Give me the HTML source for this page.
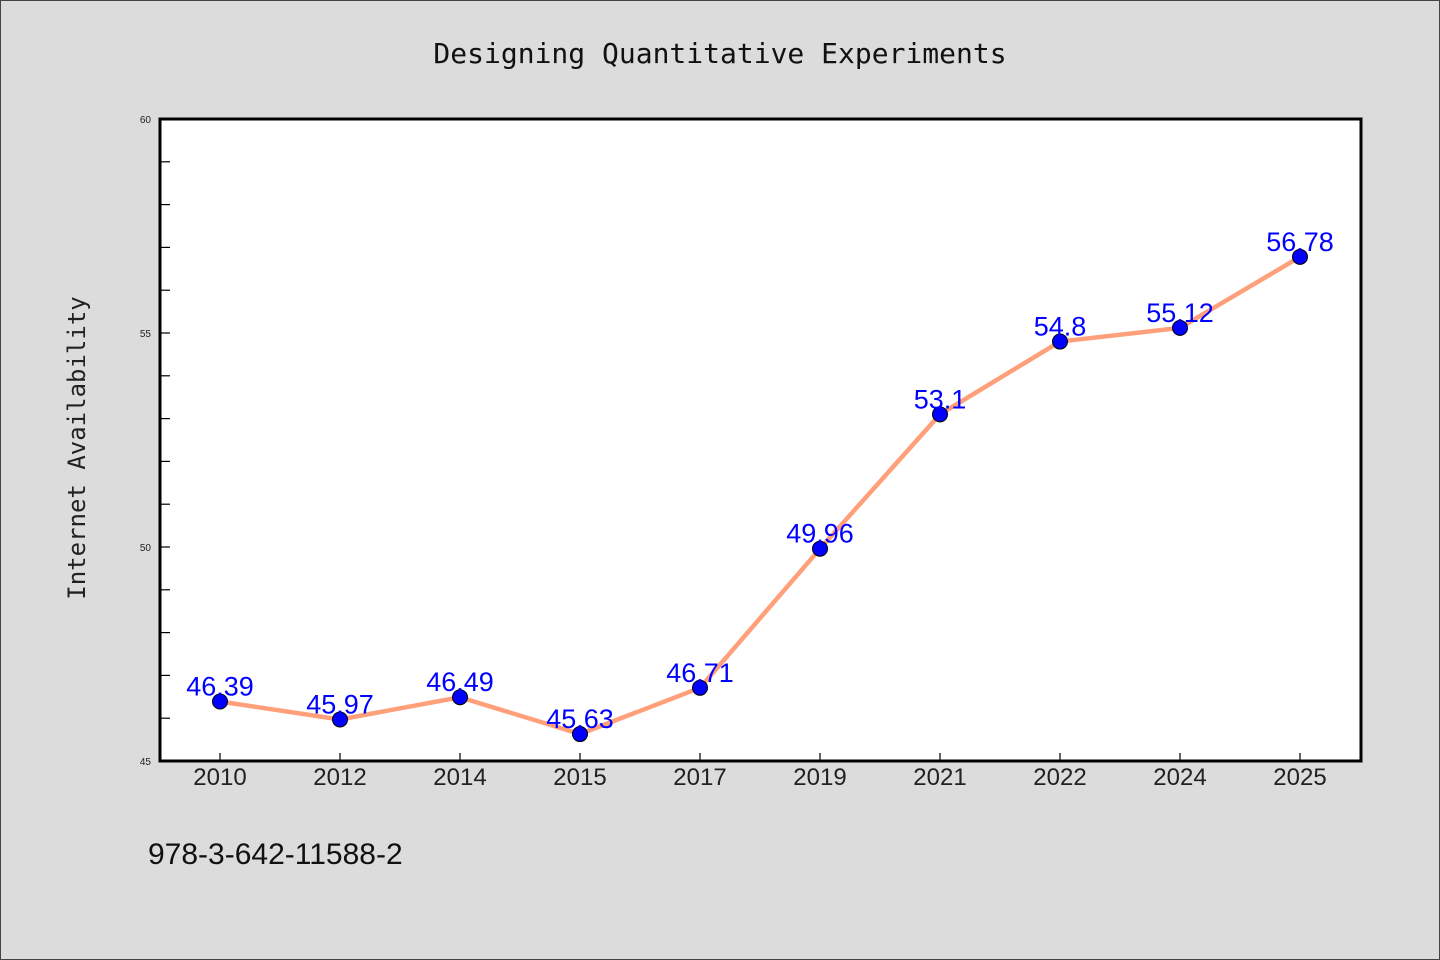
<!DOCTYPE html>
<html><head><meta charset="utf-8"><style>
body{margin:0;background:#dcdcdc;}
svg{display:block;font-family:"Liberation Sans","DejaVu Sans",sans-serif;}
</style></head><body>
<svg width="1440" height="960" id="chart">
<rect x="0.5" y="0.5" width="1439" height="959" fill="#dcdcdc" stroke="#444"/>
<text x="720" y="63" text-anchor="middle" font-size="28" font-family="'DejaVu Sans Mono','Liberation Mono',monospace" fill="#111">Designing Quantitative Experiments</text>
<text transform="translate(85,448) rotate(-90)" text-anchor="middle" font-size="24" font-family="'DejaVu Sans Mono','Liberation Mono',monospace" fill="#222">Internet Availability</text>
<text x="148" y="864" font-size="30" fill="#111">978-3-642-11588-2</text>
<rect x="160" y="119" width="1201" height="642" fill="#fff"/>
<g id="ticks"></g><g id="marks"></g>
<rect x="160" y="119" width="1201" height="642" fill="none" stroke="#000" stroke-width="3"/>
</svg>
<script>
const categories=["2010","2012","2014","2015","2017","2019","2021","2022","2024","2025"];
const values=[46.39,45.97,46.49,45.63,46.71,49.96,53.1,54.8,55.12,56.78];
const yTicks=[45,50,55,60];
const NS="http://www.w3.org/2000/svg";
const L=160,R=1360,T=119,B=761,yMin=45,yMax=60;
const x=i=>L+(R-L)/categories.length*(i+0.5);
const y=v=>B-(v-yMin)/(yMax-yMin)*(B-T);
function mk(t,a,p){const e=document.createElementNS(NS,t);for(const k in a)e.setAttribute(k,a[k]);p.appendChild(e);return e;}
const tg=document.getElementById('ticks'),mg=document.getElementById('marks');
for(let v=yMin;v<=yMax;v++){
 const l=mk('line',{x1:L,x2:L+10,y1:y(v),y2:y(v),stroke:'#000','stroke-width':1.2},tg);
 
 
}
yTicks.forEach(v=>{
 const t=mk('text',{x:151,y:y(v)+4,'text-anchor':'end','font-size':10,fill:'#222'},tg);
 t.textContent=v;
 
 
});
categories.forEach((c,i)=>{
 const l=mk('line',{x1:x(i),x2:x(i),y1:B,y2:B-8,stroke:'#000','stroke-width':1.2},tg);
 
 
 const t=mk('text',{x:x(i),y:785,'text-anchor':'middle','font-size':24,fill:'#222'},tg);
 t.textContent=c;
 
 
});
const pl=mk('polyline',{points:values.map((v,i)=>x(i)+','+y(v)).join(' '),fill:'none',stroke:'#ffa07a','stroke-width':4.5,'stroke-linejoin':'round'},mg);


values.forEach((v,i)=>{
 const c=mk('circle',{cx:x(i),cy:y(v),r:7.5,fill:'#0000ff',stroke:'#000','stroke-width':1},mg);
 
 
 const t=mk('text',{x:x(i),y:y(v)-6,'text-anchor':'middle','font-size':27,fill:'#0000ff'},mg);
 t.textContent=v;
 
 
});
</script>
</body></html>
